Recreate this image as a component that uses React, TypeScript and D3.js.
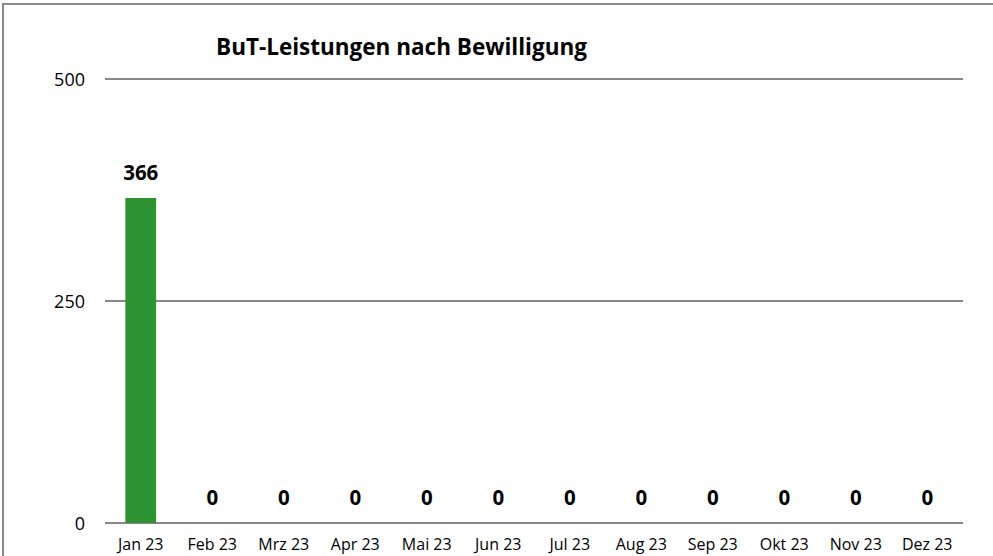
import * as d3 from 'd3';

const months = ['Jan 23', 'Feb 23', 'Mrz 23', 'Apr 23', 'Mai 23', 'Jun 23', 'Jul 23', 'Aug 23', 'Sep 23', 'Okt 23', 'Nov 23', 'Dez 23'];
const values = [366, 0, 0, 0, 0, 0, 0, 0, 0, 0, 0, 0];
const yTicks = [0, 250, 500];
const title = 'BuT-Leistungen nach Bewilligung';

const W = 993;
const H = 556;
const font = "'Open Sans', sans-serif";

export default function App() {
  const x = d3.scaleBand<string>().domain(months).range([105, 963]).paddingInner(0.57).paddingOuter(0.285);
  const y = d3.scaleLinear().domain([0, 500]).range([523, 79]);

  return (
    <svg width={W} height={H} style={{ position: 'absolute', left: 0, top: 0, background: '#fff' }}>
      <rect x={3} y={4} width={W + 10} height={H + 10} fill="#fff" stroke="#8a8a8a" strokeWidth={2} />
      <text x={401.5} y={55} textAnchor="middle" fontFamily={font} fontWeight="bold" fontSize={22.5} fill="#000">
        {title}
      </text>
      {yTicks.map(t => (
        <g key={t}>
          <line x1={105} x2={963} y1={y(t)} y2={y(t)} stroke="#888" strokeWidth={2} />
          <text x={85} y={y(t) + 6.5} textAnchor="end" fontFamily={font} fontSize={18} fill="#000">{t}</text>
        </g>
      ))}
      {months.map((m, i) => (
        <g key={m}>
          <rect x={x(m)} y={y(values[i])} width={x.bandwidth()} height={y(0) - y(values[i])} fill="#2e9332" />
          <text x={(x(m) ?? 0) + x.bandwidth() / 2} y={y(values[i]) - 18} textAnchor="middle" fontFamily={font} fontWeight="bold" fontSize={20.5} fill="#000">
            {values[i]}
          </text>
          <text x={(x(m) ?? 0) + x.bandwidth() / 2} y={550} textAnchor="middle" fontFamily={font} fontSize={16} fill="#000">
            {m}
          </text>
        </g>
      ))}
    </svg>
  );
}
